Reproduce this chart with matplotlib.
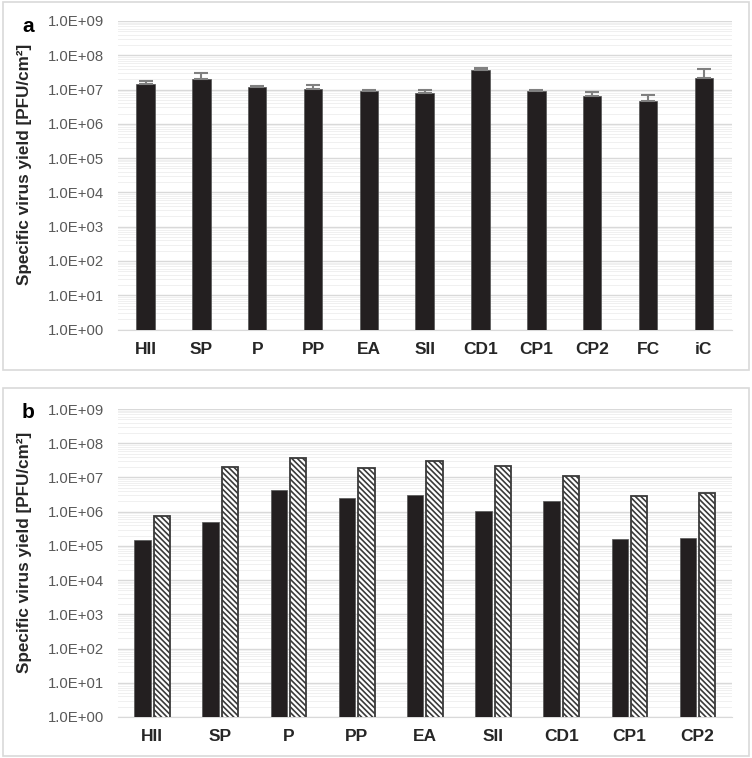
import numpy as np
import matplotlib
matplotlib.use("Agg")
import matplotlib.pyplot as plt
import matplotlib.patches as mpatches
from matplotlib.ticker import FuncFormatter, FixedLocator, NullFormatter

plt.rcParams["font.family"] = ["Liberation Sans", "DejaVu Sans"]
plt.rcParams["hatch.linewidth"] = 1.2

# panel a: single series with upward error bars
cats_a = ["HII", "SP", "P", "PP", "EA", "SII", "CD1", "CP1", "CP2", "FC", "iC"]
vals_a = [1.44e7, 2.0e7, 1.15e7, 1.05e7, 9.2e6, 7.7e6, 3.6e7, 8.8e6, 6.3e6, 4.5e6, 2.15e7]
err_top_a = [1.76e7, 2.96e7, 1.26e7, 1.32e7, 1.0e7, 9.8e6, 4.2e7, 9.4e6, 8.6e6, 7.0e6, 3.95e7]

# panel b: two series (solid, hatched)
cats_b = ["HII", "SP", "P", "PP", "EA", "SII", "CD1", "CP1", "CP2"]
solid_b = [1.5e5, 4.9e5, 4.2e6, 2.45e6, 3.06e6, 1.05e6, 2.1e6, 1.6e5, 1.65e5]
hatch_b = [7.3e5, 2.0e7, 3.6e7, 1.87e7, 3.1e7, 2.1e7, 1.07e7, 2.9e6, 3.5e6]

BAR = "#231f20"
TICK = "#595959"
YLABEL = "Specific virus yield [PFU/cm²]"
MAJOR = 10.0 ** np.arange(0, 10)
MINOR = [m * d for d in MAJOR[:-1] for m in range(2, 10)]


def sci_fmt(v, pos):
    if v <= 0:
        return ""
    e = int(round(np.log10(v)))
    return f"1.0E+{e:02d}"


def style_axis(ax, n):
    ax.set_yscale("log")
    ax.set_ylim(1, 1e9)
    ax.set_xlim(-0.5, n - 0.5)
    ax.yaxis.set_major_locator(FixedLocator(MAJOR))
    ax.yaxis.set_minor_locator(FixedLocator(MINOR))
    ax.yaxis.set_major_formatter(FuncFormatter(sci_fmt))
    ax.yaxis.set_minor_formatter(NullFormatter())
    ax.grid(which="major", axis="y", color="#d9d9d9", lw=1.0, zorder=0)
    ax.grid(which="minor", axis="y", color="#f0f0f0", lw=0.7, zorder=0)
    ax.set_axisbelow(True)
    for s in ["top", "right", "left"]:
        ax.spines[s].set_visible(False)
    ax.spines["bottom"].set_color("#d9d9d9")
    ax.tick_params(axis="y", which="both", length=0, labelsize=10.7, labelcolor=TICK, pad=10)
    ax.tick_params(axis="x", length=0, labelsize=12.5, pad=9)
    for lbl in ax.get_xticklabels():
        lbl.set_fontweight("bold")
        lbl.set_color("#262626")
    ax.set_ylabel(YLABEL, fontsize=12.3, fontweight="bold", color="#262626")
    ax.yaxis.set_label_coords(-0.1396, 0.535)


fig = plt.figure(figsize=(7.52, 7.58), dpi=100)

# panel borders
for y0, h in [(758 - 370, 368), (758 - 756, 368)]:
    fig.patches.append(mpatches.Rectangle((3 / 752, y0 / 758), 746 / 752, h / 758,
                                          transform=fig.transFigure, fill=False,
                                          edgecolor="#d9d9d9", lw=1.2))

ax1 = fig.add_axes([0.1565, 0.5653, 0.8165, 0.407])
x_a = np.arange(len(cats_a))
va = np.array(vals_a)
ax1.bar(x_a, va, width=0.33, bottom=0, color=BAR, edgecolor="#555555", lw=0.5, zorder=3)
ax1.errorbar(x_a, va, yerr=[np.zeros_like(va), np.array(err_top_a) - va], fmt="none",
             ecolor="#808080", elinewidth=1.5, capsize=5, capthick=1.5, zorder=4)
ax1.set_xticks(x_a)
ax1.set_xticklabels(cats_a)
style_axis(ax1, len(cats_a))
fig.text(28 / 752, 1 - 32 / 758, "a", fontsize=15, fontweight="bold", ha="center", va="baseline")

ax2 = fig.add_axes([0.157, 0.0541, 0.816, 0.4063])
x_b = np.arange(len(cats_b))
w = 0.24
off = 0.142
ax2.bar(x_b - off, solid_b, width=w, color=BAR, edgecolor="#555555", lw=0.5, zorder=3)
ax2.bar(x_b + off, hatch_b, width=w, color="white", edgecolor="#3a3a3a",
        hatch="\\" * 6, lw=1.3, zorder=3)
ax2.set_xticks(x_b)
ax2.set_xticklabels(cats_b)
style_axis(ax2, len(cats_b))
fig.text(28 / 752, 1 - 418 / 758, "b", fontsize=15, fontweight="bold", ha="center", va="baseline")

fig.savefig("out.png", dpi=100)
